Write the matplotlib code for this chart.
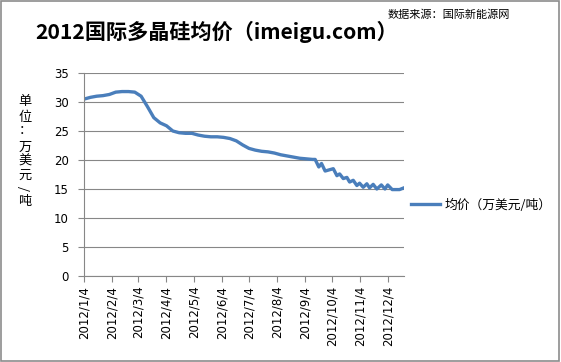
import matplotlib
matplotlib.use('Agg')
import matplotlib.pyplot as plt
from matplotlib.patches import Rectangle
import pandas as pd

# weekly average price, then the irregular quotes from mid-September
dates = ['2012-01-04', '2012-01-11', '2012-01-18', '2012-01-25', '2012-02-01',
         '2012-02-08', '2012-02-15', '2012-02-22', '2012-02-29', '2012-03-07',
         '2012-03-14', '2012-03-21', '2012-03-28', '2012-04-04', '2012-04-11',
         '2012-04-18', '2012-04-25', '2012-05-02', '2012-05-09', '2012-05-16',
         '2012-05-23', '2012-05-30', '2012-06-06', '2012-06-13', '2012-06-20',
         '2012-06-27', '2012-07-04', '2012-07-11', '2012-07-18', '2012-07-25',
         '2012-08-01', '2012-08-08', '2012-08-15', '2012-08-22', '2012-08-29',
         '2012-09-05', '2012-09-12', '2012-09-15', '2012-09-19', '2012-09-22',
         '2012-09-26', '2012-10-05', '2012-10-09', '2012-10-12', '2012-10-16',
         '2012-10-20', '2012-10-23', '2012-10-27', '2012-10-31', '2012-11-03',
         '2012-11-07', '2012-11-11', '2012-11-14', '2012-11-18', '2012-11-22',
         '2012-11-27', '2012-12-01', '2012-12-04', '2012-12-09', '2012-12-17',
         '2012-12-22']
prices = [30.5, 30.8, 31.0, 31.1, 31.3,
          31.7, 31.8, 31.8, 31.7, 31.0,
          29.2, 27.3, 26.4, 25.9, 25.0,
          24.7, 24.6, 24.6, 24.3, 24.1,
          24.0, 24.0, 23.9, 23.7, 23.3,
          22.6, 22.0, 21.7, 21.5, 21.4,
          21.2, 20.9, 20.7, 20.5, 20.3,
          20.2, 20.1, 20.1, 18.8, 19.4,
          18.1, 18.5, 17.3, 17.6, 16.8,
          17.0, 16.2, 16.5, 15.6, 16.0,
          15.3, 15.9, 15.2, 15.8, 15.0,
          15.7, 15.0, 15.7, 14.9, 14.9,
          15.2]
tick_dates = ['2012-%02d-04' % m for m in range(1, 13)]
tick_labels = ['2012/%d/4' % m for m in range(1, 13)]

title = '2012国际多晶硅均价（imeigu.com）'
source = '数据来源：国际新能源网'
ylabel = '单位：万美元/吨'
legend_label = '均价（万美元/吨）'

cjk = ['Noto Sans CJK SC', 'DejaVu Sans']
line_color = '#4A7EBB'
grid_color = '#878787'

x = pd.to_datetime(dates)

fig = plt.figure(figsize=(5.61, 3.62), dpi=100)
fig.patch.set_facecolor('white')
fig.patches.append(Rectangle((0.002, 0.003), 0.995, 0.994, transform=fig.transFigure,
                             fill=False, edgecolor='#8c8c8c', linewidth=1.2))

ax = fig.add_axes([84 / 561, 1 - 276 / 362, 320 / 561, 203 / 362])
ax.plot(x, prices, color=line_color, linewidth=2.4, solid_joinstyle='round',
        label=legend_label)

ax.set_ylim(0, 35)
ax.set_yticks(range(0, 36, 5))
ax.set_xlim(x[0], x[-1])
ax.set_xticks(pd.to_datetime(tick_dates))
ax.set_xticklabels(tick_labels, rotation=90)
ax.grid(axis='y', color=grid_color, linewidth=0.8)
ax.set_axisbelow(True)

for side in ['top', 'right']:
    ax.spines[side].set_visible(False)
for side in ['left', 'bottom']:
    ax.spines[side].set_color(grid_color)
    ax.spines[side].set_linewidth(0.8)
ax.tick_params(axis='both', colors=grid_color, length=4, width=0.8, labelcolor='black',
               labelsize=8.5, pad=3)
ax.tick_params(axis='y', pad=7)

fig.text(217 / 561, 1 - 32 / 362, title, family=cjk, fontsize=15.2, fontweight='bold',
         ha='center', va='center')
fig.text(510 / 561, 1 - 15 / 362, source, family=cjk, fontsize=8, ha='right', va='center')

# vertical stacked unit label
ys = [102, 118, 131, 147, 161, 175, 188, 201]
for ch, yy in zip(ylabel, ys):
    rot = 90 if ch == '/' else 0
    fig.text(25 / 561, 1 - yy / 362, ch, family=cjk, fontsize=9.5, ha='center',
             va='center', rotation=rot)

leg = fig.legend(loc='center left', bbox_to_anchor=(411 / 561, 1 - 205 / 362),
                 frameon=False, prop={'family': cjk, 'size': 9.2}, handlelength=2.3,
                 handletextpad=0.3, borderpad=0, borderaxespad=0)

fig.savefig('out.png', dpi=100)
